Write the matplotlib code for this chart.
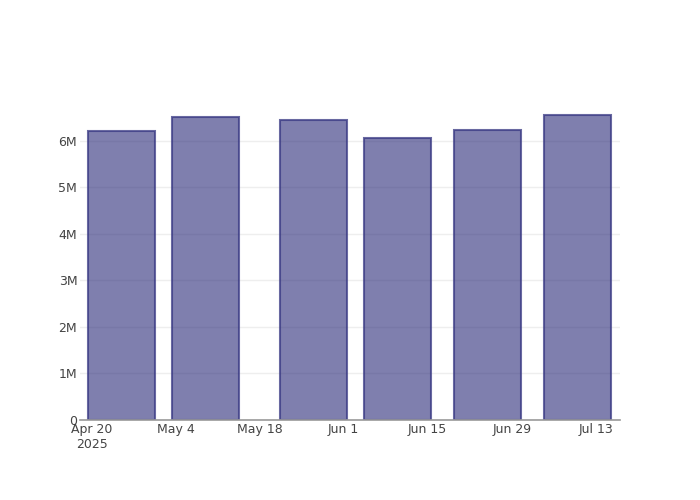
import numpy as np
import pandas as pd
import matplotlib
matplotlib.use('Agg')
import matplotlib.pyplot as plt
import matplotlib.dates as mdates
from matplotlib.ticker import FuncFormatter

# Data
dates = pd.to_datetime(['2025-04-25', '2025-05-09', '2025-05-27',
                        '2025-06-10', '2025-06-25', '2025-07-10'])
values = [6.21e6, 6.52e6, 6.45e6, 6.07e6, 6.24e6, 6.55e6]
tick_dates = pd.to_datetime(['2025-04-20', '2025-05-04', '2025-05-18', '2025-06-01',
                             '2025-06-15', '2025-06-29', '2025-07-13'])
tick_labels = ['Apr 20\n2025', 'May 4', 'May 18', 'Jun 1', 'Jun 15', 'Jun 29', 'Jul 13']
y_ticks = [0, 1e6, 2e6, 3e6, 4e6, 5e6, 6e6]

plt.rcParams['font.family'] = ['DejaVu Sans']

fig = plt.figure(figsize=(7, 5), dpi=100)
ax = fig.add_axes([80 / 700, 80 / 500, 540 / 700, 320 / 500])

# bar width = 0.8 of the smallest gap (14 days); translucent so the grid shows through
ax.bar(dates, values, width=11.2, color=(42/255, 42/255, 120/255, 0.6),
       edgecolor=(55/255, 55/255, 130/255, 0.75), linewidth=1.5, zorder=3)

ax.set_xlim(pd.Timestamp('2025-04-18 01:00'), pd.Timestamp('2025-07-17 01:00'))
ax.set_ylim(0, 6.88e6)

ax.set_xticks(tick_dates)
ax.set_xticklabels(tick_labels, fontsize=9, color='#444444')
ax.set_yticks(y_ticks)
ax.yaxis.set_major_formatter(FuncFormatter(lambda v, p: '0' if v == 0 else f'{v / 1e6:.0f}M'))
ax.tick_params(axis='y', length=0, pad=2, labelsize=9, labelcolor='#444444')
ax.tick_params(axis='x', length=0, pad=2.5)

ax.grid(axis='y', color='#eeeeee', linewidth=1, zorder=0)
for s in ['top', 'right', 'left']:
    ax.spines[s].set_visible(False)
ax.spines['bottom'].set_color('#999999')
ax.spines['bottom'].set_linewidth(1.2)
ax.spines['bottom'].set_zorder(4)

fig.savefig('out.png', dpi=100)
